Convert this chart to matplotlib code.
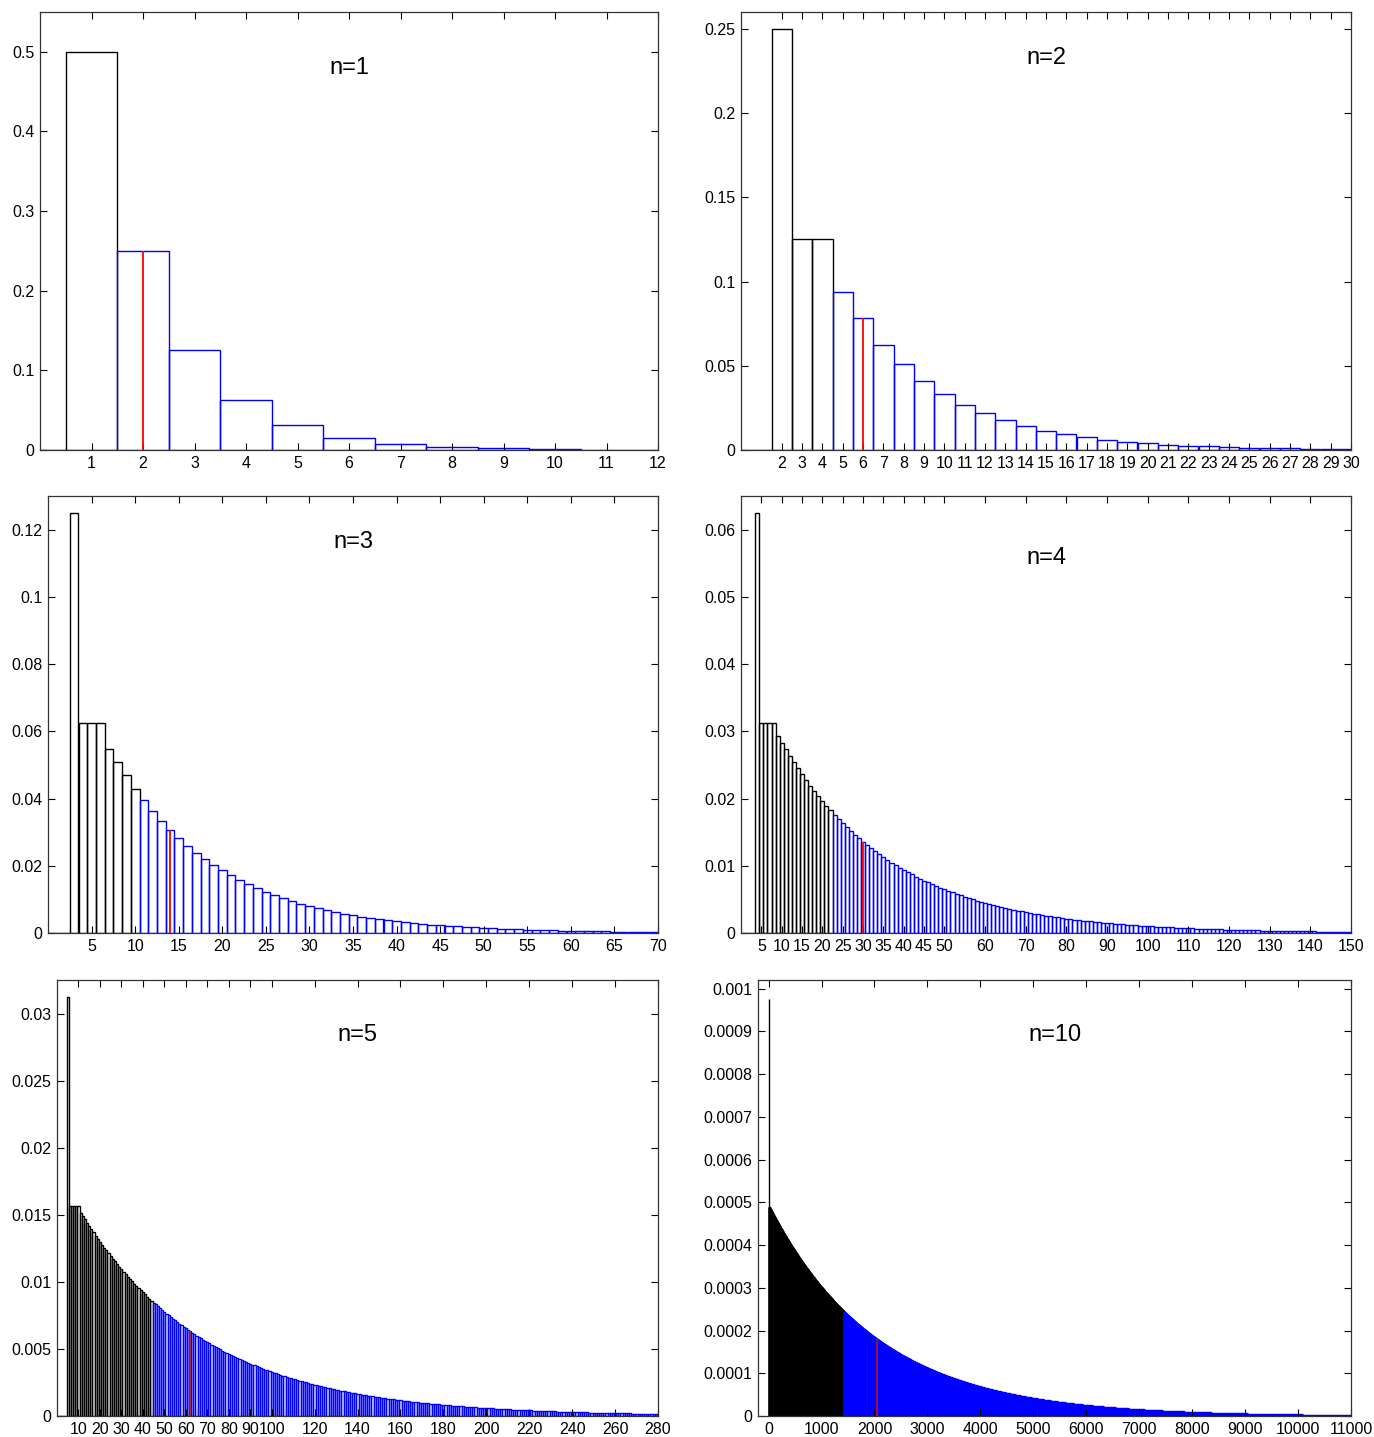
import numpy as np
import matplotlib
matplotlib.use('Agg')
import matplotlib.pyplot as plt
from matplotlib.ticker import FuncFormatter

plt.rcParams['font.family'] = ['Liberation Sans', 'DejaVu Sans']

# run length n of heads we wait for, one panel each
run_lengths = [1, 2, 3, 4, 5, 10]

# axis ranges
x_limits = [(0, 12), (0, 30), (0, 70), (0, 150), (0, 280), (-200, 11000)]
y_limits = [0.55, 0.26, 0.13, 0.065, 0.0325, 0.00102]

# tick labels
x_ticks = [
    list(range(1, 13)),
    list(range(2, 31)),
    list(range(5, 71, 5)),
    list(range(5, 51, 5)) + list(range(60, 151, 10)),
    list(range(10, 101, 10)) + list(range(120, 281, 20)),
    list(range(0, 11001, 1000)),
]
y_ticks = [
    [0, 0.1, 0.2, 0.3, 0.4, 0.5],
    [0, 0.05, 0.1, 0.15, 0.2, 0.25],
    [0, 0.02, 0.04, 0.06, 0.08, 0.1, 0.12],
    [0, 0.01, 0.02, 0.03, 0.04, 0.05, 0.06],
    [0, 0.005, 0.01, 0.015, 0.02, 0.025, 0.03],
    [0, 0.0001, 0.0002, 0.0003, 0.0004, 0.0005,
     0.0006, 0.0007, 0.0008, 0.0009, 0.001],
]

# where the "n=.." label sits (axes fraction)
label_y = [0.872, 0.895, 0.895, 0.858, 0.874, 0.874]

# panel boxes in pixels: left, top, right, bottom
W, H = 1374, 1437
panel_px = [
    (40, 12, 658, 450), (741, 12, 1351, 450),
    (48, 496, 658, 933), (741, 496, 1351, 933),
    (57, 980, 658, 1416), (758, 980, 1351, 1416),
]


def waiting_time_pmf(n, k_max):
    # probability that the first run of n heads ends at toss k (fair coin)
    state = np.zeros(n)
    state[0] = 1.0
    pmf = np.zeros(k_max + 1)
    for k in range(1, k_max + 1):
        pmf[k] = state[n - 1] * 0.5
        new = np.zeros(n)
        new[0] = state.sum() * 0.5
        new[1:] = state[:-1] * 0.5
        state = new
    return pmf


fig = plt.figure(figsize=(W / 100, H / 100), dpi=100)

for i, n in enumerate(run_lengths):
    l, t, r, b = panel_px[i]
    ax = fig.add_axes([l / W, 1 - b / H, (r - l) / W, (b - t) / H])

    k_max = x_limits[i][1]
    pmf = waiting_time_pmf(n, k_max)
    k = np.arange(k_max + 1)
    median = int(np.searchsorted(np.cumsum(pmf), 0.5))
    mean = 2 ** (n + 1) - 2

    # black up to the median, blue beyond, red line at the mean
    low = k <= median
    ax.bar(k[low], pmf[low], width=1.0, fill=False, edgecolor='black',
           linewidth=1.0)
    ax.bar(k[~low], pmf[~low], width=1.0, fill=False, edgecolor='#0000ff',
           linewidth=1.0)
    if n < 5:
        ax.vlines(mean, 0, pmf[mean], color='red', linewidth=1.3, zorder=3)
    else:
        ax.vlines(mean, 0, pmf[mean], color='#cc1111', linewidth=1.1,
                  zorder=3)

    ax.set_xlim(*x_limits[i])
    ax.set_ylim(0, y_limits[i])
    ax.set_xticks(x_ticks[i])
    ax.set_yticks(y_ticks[i])
    ax.yaxis.set_major_formatter(FuncFormatter(lambda v, p: '%g' % v))
    ax.tick_params(direction='in', top=True, right=True, length=5,
                   width=0.8, labelsize=11.5, pad=4)
    for s in ax.spines.values():
        s.set_linewidth(0.9)
        s.set_color('#333333')

    ax.text(0.5, label_y[i], f'n={n}', transform=ax.transAxes,
            ha='center', va='center', fontsize=17)

fig.savefig('out.png', dpi=100)
